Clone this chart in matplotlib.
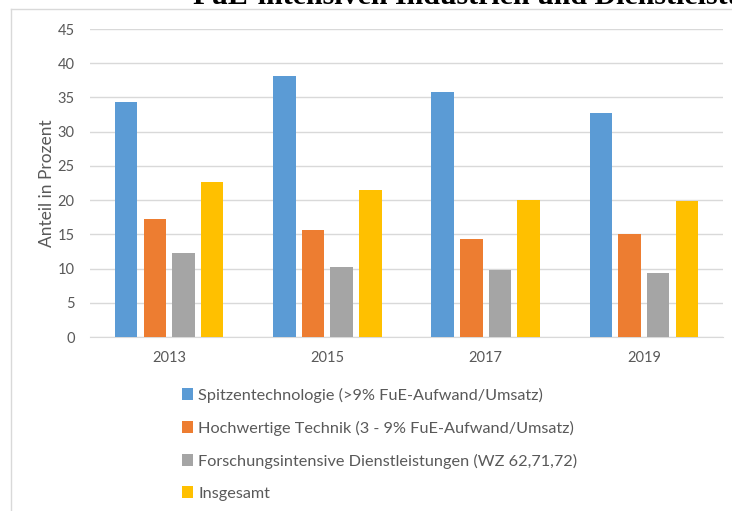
import matplotlib
matplotlib.use("Agg")
import matplotlib.pyplot as plt
from matplotlib.lines import Line2D
from matplotlib.patches import Patch
import numpy as np

# Anteile in Prozent je Jahr
jahre = ["2013", "2015", "2017", "2019"]
spitzentechnologie = [34.4, 38.2, 35.8, 32.8]
hochwertige_technik = [17.3, 15.6, 14.3, 15.0]
dienstleistungen = [12.2, 10.3, 9.8, 9.4]
insgesamt = [22.6, 21.5, 20.0, 19.8]

serien = [
    ("Spitzentechnologie (>9% FuE-Aufwand/Umsatz)", spitzentechnologie, "#5B9BD5"),
    ("Hochwertige Technik (3 - 9% FuE-Aufwand/Umsatz)", hochwertige_technik, "#ED7D31"),
    ("Forschungsintensive Dienstleistungen (WZ 62,71,72)", dienstleistungen, "#A5A5A5"),
    ("Insgesamt", insgesamt, "#FFC000"),
]

textfarbe = "#595959"
plt.rcParams["font.family"] = ["Lato", "DejaVu Sans"]

W, H = 732, 511
fig = plt.figure(figsize=(W / 100, H / 100), dpi=100)
ax = fig.add_axes([90 / W, 1 - 337 / H, (723 - 90) / W, (337 - 29) / H])

x = np.arange(len(jahre))
breite = 0.142
abstand = 0.181
for i, (name, werte, farbe) in enumerate(serien):
    ax.bar(x + (i - 1.5) * abstand, werte, breite, color=farbe, label=name, zorder=3)

ax.set_xlim(-0.5, len(jahre) - 0.5)
ax.set_ylim(0, 45)
ax.set_yticks(range(0, 46, 5))
ax.set_xticks(x)
ax.set_xticklabels(jahre)
ax.grid(axis="y", color="#D9D9D9", linewidth=1, zorder=0)
for s in ["top", "right", "left"]:
    ax.spines[s].set_visible(False)
ax.spines["bottom"].set_color("#D9D9D9")
ax.tick_params(axis="both", length=0, colors=textfarbe, labelsize=10.5)
ax.tick_params(axis="y", pad=11)
ax.tick_params(axis="x", pad=10)
ax.set_ylabel("Anteil in Prozent", color=textfarbe, fontsize=12.5, labelpad=2)

# Legende unter dem Diagramm
handles = [Patch(facecolor=f, edgecolor="none") for _, _, f in serien]
labels = [n for n, _, _ in serien]
fig.legend(handles, labels, loc="upper left", bbox_to_anchor=(167 / W, 1 - 373 / H),
           frameon=False, fontsize=11.7, labelcolor=textfarbe, handlelength=0.72,
           handleheight=0.72, handletextpad=0.3, labelspacing=1.1)

# Rahmen des Diagrammbereichs
fig.add_artist(Line2D([11 / W, 11 / W], [0, 1 - 9 / H], color="#D9D9D9", linewidth=1))
fig.add_artist(Line2D([11 / W, 1], [1 - 9 / H, 1 - 9 / H], color="#D9D9D9", linewidth=1))

# Überschrift (am oberen Rand angeschnitten)
fig.text(193 / W, 1 - 4 / H, "FuE-intensiven Industrien und Dienstleistungen",
         family="Liberation Serif", weight="bold", fontsize=21.5, va="baseline", ha="left")

fig.savefig("out.png", dpi=100)
